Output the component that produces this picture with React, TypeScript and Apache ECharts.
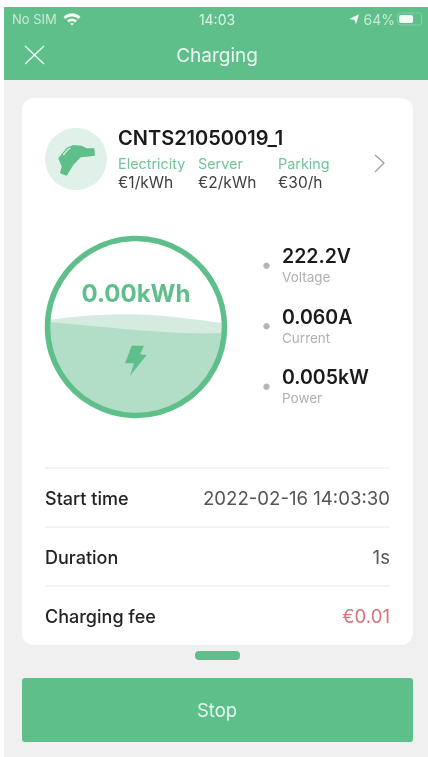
import React, { useEffect, useRef } from "react";
import * as echarts from "echarts";

const statusLeft = "No SIM";
const statusTime = "14:03";
const statusBattery = "64%";
const pageTitle = "Charging";
const stationName = "CNTS21050019_1";
const priceNames = ["Electricity", "Server", "Parking"];
const priceValues = ["€1/kWh", "€2/kWh", "€30/h"];
const energyLabel = "0.00kWh";
const meterValues = ["222.2V", "0.060A", "0.005kW"];
const meterNames = ["Voltage", "Current", "Power"];
const rowNames = ["Start time", "Duration", "Charging fee"];
const rowValues = ["2022-02-16 14:03:30", "1s", "€0.01"];
const actionLabel = "Stop";

const GREEN = "#5FBF8B";
const FONT = "Inter, 'Noto Sans', sans-serif";

function makePath(d: string) {
  return echarts.graphic.extendPath(d as any, {} as any) as any;
}
echarts.graphic.registerShape("waveBackShape", makePath("M49.5 320 C80 315 125 313 150 315 C180 317 205 321 222.8 323 A87 87 0 0 1 222.8 335 L49.1 331 A87 87 0 0 1 49.5 320 Z"));
echarts.graphic.registerShape("waveFrontShape", makePath("M49.1 322 C85 325 120 329 150 331 C175 333 200 334 222.8 333 A87 87 0 0 1 49.1 322 Z"));
echarts.graphic.registerShape("boltShape", makePath("M131.7 345.7 L144 345.7 L140 354.3 L146.7 355 L130 375.7 L134 363.3 L125 363.3 Z"));
echarts.graphic.registerShape("plugShape", makePath("M58.3 158.3 L66.7 147.7 L73.3 145 L81.7 145.7 L86.7 148.3 L94.3 148.3 L95 155.7 L86.7 156.7 L80.7 157.3 L73.3 165 L66.7 175.7 L60 173.3 L61.7 166.7 Z"));
echarts.graphic.registerShape("wifiShape", makePath("M63.5 17 C68 12 76 12 80.5 17 L78.6 19 C75 15.5 69 15.5 65.4 19 Z M67 20.5 C70 17.7 74 17.7 77 20.5 L75.2 22.4 C73.4 21 70.6 21 68.8 22.4 Z M72 25.5 L70 23.6 C71.2 22.8 72.8 22.8 74 23.6 Z"));
echarts.graphic.registerShape("arrowShape", makePath("M349.3 19 L359 14.3 L356 24.3 L354.5 20 Z"));

const txt = (text: string, x: number, y: number, size: number, fill: string, weight: any = 400, align: string = "left") => ({
  type: "text",
  x,
  y,
  silent: true,
  style: { text, fontSize: size, fontWeight: weight, fill, align, verticalAlign: "middle", fontFamily: FONT },
});
const rect = (x: number, y: number, width: number, height: number, fill: string, r = 0) => ({
  type: "rect",
  silent: true,
  shape: { x, y, width, height, r },
  style: { fill },
});
const line = (x1: number, y1: number, x2: number, y2: number, stroke: string, lineWidth = 1) => ({
  type: "line",
  silent: true,
  shape: { x1, y1, x2, y2 },
  style: { stroke, lineWidth },
});
const shape = (type: string, fill: string, opacity = 1) => ({ type, silent: true, style: { fill, opacity } });

export default function App() {
  const ref = useRef<HTMLDivElement>(null);
  useEffect(() => {
    const chart = echarts.init(ref.current!, null, { renderer: "svg" });
    const priceX = [118, 198, 278];
    const meterY = [256, 316.5, 377];
    const rowY = [498, 557, 616];
    const elements: any[] = [
      rect(0, 0, 428, 757, "#FFFFFF"),
      rect(4, 80, 424, 677, "#F0F0F0"),
      rect(4, 7, 424, 73, GREEN),
      txt(statusLeft, 12, 19, 13, "#C9E9D7"),
      shape("wifiShape", "#F2FAF5"),
      txt(statusTime, 217, 19, 14, "#E0F3E9", 400, "center"),
      shape("arrowShape", "#F2FAF5"),
      txt(statusBattery, 395, 19, 14, "#C9E9D7", 400, "right"),
      { type: "rect", silent: true, shape: { x: 397.5, y: 13, width: 24, height: 12, r: 3 }, style: { fill: "none", stroke: "#84CEA6", lineWidth: 1 } },
      rect(399, 15, 14, 8, "#F4FBF7", 2),
      line(25, 46, 44, 64, "#EFF9F3", 1.4),
      line(44, 46, 25, 64, "#EFF9F3", 1.4),
      txt(pageTitle, 217, 55, 19, "#EAF7F0", 400, "center"),
      rect(22, 98, 391, 547, "#FFFFFF", 12),
      { type: "circle", silent: true, shape: { cx: 76, cy: 159, r: 31 }, style: { fill: "#DFF1E8" } },
      shape("plugShape", GREEN),
      { type: "polyline", silent: true, shape: { points: [[63.3, 155], [68.3, 149], [70.7, 148.3]] }, style: { fill: "none", stroke: "#DFF1E8", lineWidth: 1.2 } },
      txt(stationName, 118, 138, 20, "#1A1A1A", 600),
      ...priceNames.map((s, i) => txt(s, priceX[i], 163, 14.4, "#6FC59A", 400)),
      ...priceValues.map((s, i) => txt(s, priceX[i], 182, 15.5, "#3E3E3E", 400)),
      { type: "polyline", silent: true, shape: { points: [[375, 155], [384, 163], [375, 172]] }, style: { fill: "none", stroke: "#9A9A9A", lineWidth: 1.2 } },
      shape("waveBackShape", "#D5EBDF"),
      shape("waveFrontShape", "#B2DDC6"),
      { type: "circle", silent: true, shape: { cx: 136, cy: 327, r: 88.5 }, style: { fill: "none", stroke: GREEN, lineWidth: 5.5 } },
      txt(energyLabel, 136, 293, 24, GREEN, 700, "center"),
      shape("boltShape", GREEN),
      ...meterValues.map((s, i) => txt(s, 282, meterY[i], 19.5, "#1A1A1A", 600)),
      ...meterNames.map((s, i) => txt(s, 282, meterY[i] + 21, 13.5, "#B0B0B0", 400)),
      ...meterY.map((y) => ({ type: "circle", silent: true, shape: { cx: 266.5, cy: y + 9.7, r: 3.2 }, style: { fill: "#B4B4B4" } })),
      ...rowY.map((y) => line(45, y - 30, 390, y - 30, "#E8E8E8", 1)),
      ...rowNames.map((s, i) => txt(s, 45, rowY[i], 18, "#222222", 500)),
      ...rowValues.map((s, i) => txt(s, 390, rowY[i], 18.6, i === 2 ? "#D9757A" : "#555555", 400, "right")),
      rect(195, 651, 45, 9, GREEN, 4),
      rect(22, 678, 391, 64, GREEN, 3),
      txt(actionLabel, 217, 710, 18.5, "#EAF7F0", 400, "center"),
    ];
    chart.setOption({ animation: false, graphic: { elements } });
    return () => chart.dispose();
  }, []);
  return <div ref={ref} style={{ position: "fixed", left: 0, top: 0, width: 428, height: 757 }} />;
}
